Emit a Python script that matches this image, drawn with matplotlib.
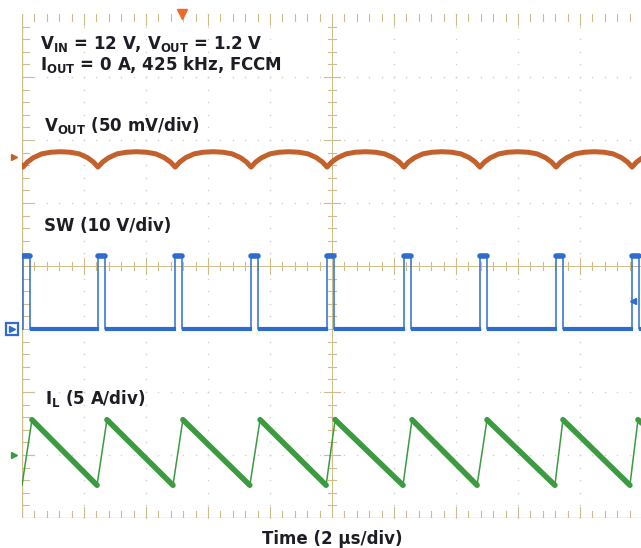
import numpy as np
import matplotlib.pyplot as plt

plt.rcParams['font.family'] = ['DejaVu Sans']
plt.rcParams['mathtext.fontset'] = 'custom'
plt.rcParams['mathtext.rm'] = 'DejaVu Sans:bold'
plt.rcParams['mathtext.it'] = 'DejaVu Sans:bold'
plt.rcParams['mathtext.bf'] = 'DejaVu Sans:bold'

# time axis: 2 us/div, 10 div on screen
t_per_div = 2.0

# SW node (10 V/div), ground marker one div below centre
sw_rise = [0.03, 2.45, 4.94, 7.39, 9.84, 12.32, 14.77, 17.23, 19.68]
sw_width = 0.22
sw_high = 11.6
sw_low = 0.0
sw_scale = 10.0
sw_offset = -1.0
sw_trig = 4.4

# inductor current (5 A/div), zero at -3 div
il_valley_t = [0.0, 2.42, 4.87, 7.35, 9.81, 12.29, 14.68, 17.19, 19.61, 22.3]
il_peak_t = [0.32, 2.74, 5.19, 7.68, 10.10, 12.58, 15.0, 17.45, 19.87]
il_peak = 2.8
il_valley = -2.4
il_scale = 5.0
il_offset = -3.0

# output ripple (50 mV/div), offset +1.73 div; dips at each switching edge
vout_dip_t = [0.03, 2.45, 4.94, 7.39, 9.84, 12.32, 14.77, 17.23, 19.68, 22.1]
arch_phase = [0.0, 0.06, 0.14, 0.25, 0.37, 0.5, 0.63, 0.75, 0.86, 0.94, 1.0]
arch_mv = [-8.0, -4.0, -0.5, 2.5, 3.8, 4.2, 3.8, 2.5, -0.5, -4.0, -8.0]
vout_scale = 50.0
vout_offset = 1.73

c_vout = '#c2612c'
c_sw = '#2f6cd0'
c_il = '#3c9a40'
c_grat = '#cdbd8a'
c_dot = '#cfcfcf'
c_txt = '#1d1d26'

fig = plt.figure(figsize=(6.41, 5.48), dpi=100)
W, H = 641, 548
ax = fig.add_axes([22 / W, 30 / H, 620 / W, 504 / H])
ax.set_xlim(0, 10 * t_per_div)
ax.set_ylim(-4, 4)
ax.axis('off')

# graticule
minor = 0.2
for i in range(1, 10):
    if i == 5:
        continue
    yy = np.arange(-4, 4.001, minor)
    ax.plot(np.full_like(yy, i * t_per_div), yy, ls='none', marker='s', ms=1.0,
            color=c_dot, mew=0)
for j in range(-3, 4):
    if j == 0:
        continue
    xx = np.arange(0, 10.001, minor) * t_per_div
    ax.plot(xx, np.full_like(xx, j), ls='none', marker='s', ms=1.0, color=c_dot, mew=0)

ax.plot([5 * t_per_div] * 2, [-4, 4], color=c_grat, lw=0.7)
ax.plot([0, 10 * t_per_div], [0, 0], color=c_grat, lw=0.7)
ax.plot([0, 0], [-4, 4], color=c_grat, lw=1.0)
ax.plot([0, 10 * t_per_div], [-4, -4], color=c_grat, lw=1.0)

for k in range(1, 50):
    x = k * minor * t_per_div
    big = (k % 5 == 0)
    h = 0.13 if big else 0.07
    ax.plot([x, x], [-h, h], color=c_grat, lw=0.8)
    ax.plot([x, x], [-4, -4 + h + 0.04], color=c_grat, lw=0.8)
    ax.plot([x, x], [4 - h - 0.04, 4], color=c_grat, lw=0.8)
for k in range(1, 40):
    y = -4 + k * minor
    big = (k % 5 == 0)
    h = 0.13 if big else 0.07
    ax.plot([5 * t_per_div - h * t_per_div, 5 * t_per_div + h * t_per_div], [y, y],
            color=c_grat, lw=0.8)
    ax.plot([0, (h + 0.04) * t_per_div], [y, y], color=c_grat, lw=0.8)

# VOUT trace
vt, vv = [], []
for a, b in zip(vout_dip_t[:-1], vout_dip_t[1:]):
    for p, m in zip(arch_phase, arch_mv):
        vt.append(a + p * (b - a))
        vv.append(m)
vt = [0.0] + vt
vv = [arch_mv[-1] + 1.0] + vv
ax.plot(vt, vout_offset + np.array(vv) / vout_scale, color=c_vout, lw=3.6,
        solid_joinstyle='round')

# SW trace
st, sv = [-0.5], [sw_low]
for r in sw_rise:
    st += [r, r, r + sw_width, r + sw_width]
    sv += [sw_low, sw_high, sw_high, sw_low]
st.append(21.0)
sv.append(sw_low)
ax.plot(st, sw_offset + np.array(sv) / sw_scale, color=c_sw, lw=1.1)
for r in sw_rise:
    ax.plot([r, r + sw_width], [sw_offset + sw_high / sw_scale] * 2, color=c_sw,
            lw=4.0, solid_capstyle='round')
starts = [0.0] + [r + sw_width + 0.08 for r in sw_rise]
ends = [r - 0.03 for r in sw_rise] + [21.0]
for a, b in zip(starts, ends):
    if b > a:
        ax.plot([a, b], [sw_offset + sw_low / sw_scale] * 2, color=c_sw, lw=3.0)

# IL trace
lt, lv = [], []
for i, tv in enumerate(il_valley_t):
    lt.append(tv)
    lv.append(il_valley)
    if i < len(il_peak_t):
        lt.append(il_peak_t[i])
        lv.append(il_peak)
ly = il_offset + np.array(lv) / il_scale
ax.plot(lt, ly, color=c_il, lw=1.1)
for i in range(len(il_peak_t)):
    ax.plot([il_peak_t[i], il_valley_t[i + 1]],
            [il_offset + il_peak / il_scale, il_offset + il_valley / il_scale],
            color=c_il, lw=4.0, solid_capstyle='round')

# channel markers
ax.plot([-0.26], [vout_offset], marker='>', ms=5, color=c_vout, clip_on=False)
ax.plot([-0.26], [il_offset], marker='>', ms=5, color=c_il, clip_on=False)
ax.plot([-0.33], [sw_offset], marker='s', ms=9, mfc='white', mec=c_sw, mew=1.6,
        clip_on=False)
ax.plot([-0.31], [sw_offset], marker='>', ms=4, color=c_sw, clip_on=False)
ax.plot([19.72], [sw_offset + sw_trig / sw_scale], marker='<', ms=4, color=c_sw,
        clip_on=False)
ax.plot([5.17], [4.0], marker='v', ms=7, color='#ee6a2a', clip_on=False)

# labels
def lab(px, py, s, **kw):
    fig.text(px / W, 1 - py / H, s, fontsize=12, fontweight='bold', color=c_txt,
             va='baseline', **kw)

lab(40, 49, r'V$_{\mathrm{IN}}$ = 12 V, V$_{\mathrm{OUT}}$ = 1.2 V')
lab(40, 70, r'I$_{\mathrm{OUT}}$ = 0 A, 425 kHz, FCCM')
lab(44, 131, r'V$_{\mathrm{OUT}}$ (50 mV/div)')
lab(44, 231, 'SW (10 V/div)')
lab(45, 404, r'I$_{\mathrm{L}}$ (5 A/div)')
lab(332, 544, 'Time (2 µs/div)', ha='center')

fig.savefig('out.png', dpi=100)
